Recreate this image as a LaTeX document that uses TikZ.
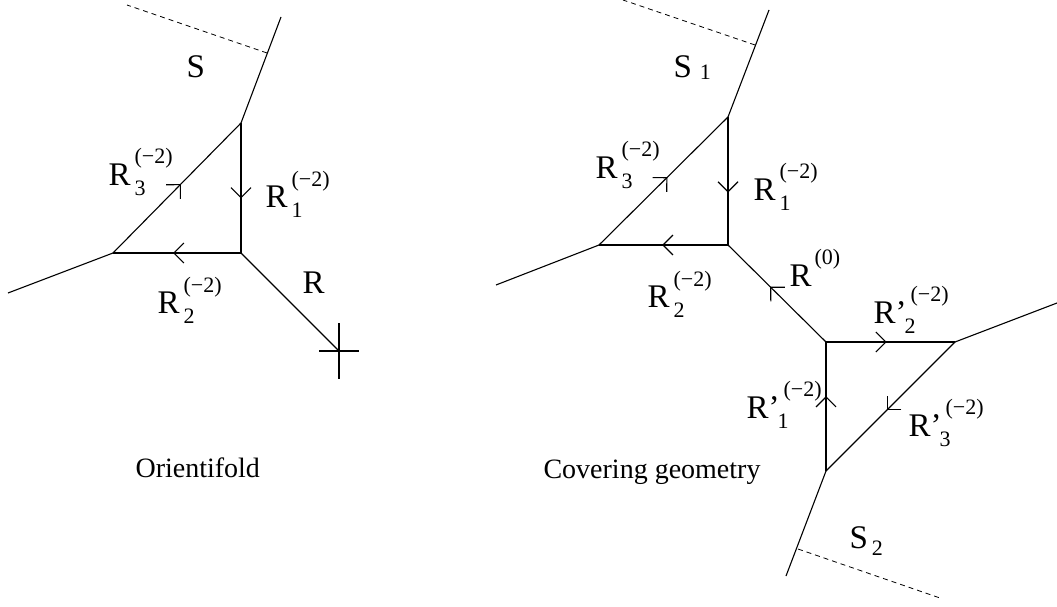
\documentclass[tikz,border=0pt]{standalone}
\usepackage{fontspec}
\setmainfont{Liberation Serif}
\usetikzlibrary{arrows.meta,decorations.markings}
\newcommand{\scr}{\fontsize{22}{22}\selectfont}
\newcommand{\Rlab}[2]{R\kern4pt\rlap{\raisebox{-10pt}{\scr #1}}\raisebox{21pt}{\scr #2}}
\newcommand{\Rplab}[2]{R’\kern-2pt\rlap{\raisebox{-10pt}{\scr #1}}\kern6pt\raisebox{22pt}{\scr #2}}
\begin{document}
\begin{tikzpicture}[
    x=1pt, y=-1pt,
    line width=1.1pt,
    lab/.style={anchor=base west, inner sep=0pt, font=\fontsize{33}{33}\selectfont},
    title/.style={anchor=base west, inner sep=0pt, font=\fontsize{28}{28}\selectfont},
    brane/.style={dashed, line width=0.8pt, dash pattern=on 5pt off 4pt},
    flow/.style={postaction={decorate}, decoration={markings,
        mark=at position #1 with {\arrow{Straight Barb[length=10pt,width=20pt,line width=1.1pt]}}}}
]
\useasboundingbox (0,0) rectangle (1057,607);
% orientifold
\coordinate (t) at (241,123);
\coordinate (b) at (241,253);
\coordinate (l) at (113,253);
\coordinate (tu) at (281,17);
\coordinate (sm) at (267,53);
\coordinate (se) at (127,5);
\coordinate (lo) at (8,293);
\coordinate (x) at (339,351);
\draw[flow=0.58] (t) -- (b);
\draw[flow=0.53] (b) -- (l);
\draw[flow=0.53] (l) -- (t);
\draw (t) -- (tu);
\draw (l) -- (lo);
\draw (b) -- (x);
\draw[brane] (sm) -- (se);
\draw (x) ++(-20,0) -- ++(40,0);
\draw (x) ++(0,-28) -- ++(0,56);
\node[lab] (s) at (186,78) {S};
\node[lab] (r3) at (108,185) {\Rlab{3}{(−2)}};
\node[lab] (r1) at (265,207) {\Rlab{1}{(−2)}};
\node[lab] (r2) at (157,313) {\Rlab{2}{(−2)}};
\node[lab] (r) at (302,293) {R};
\node[title] (orient) at (135,477) {Orientifold};
% covering geometry
\coordinate (ct) at (728,117);
\coordinate (cc) at (728,245);
\coordinate (cl) at (599,245);
\coordinate (ctu) at (769,10);
\coordinate (csm) at (755,45);
\coordinate (cse) at (623,0);
\coordinate (clo) at (496,285);
\coordinate (d) at (826,342);
\coordinate (e) at (955,342);
\coordinate (f) at (826,471);
\coordinate (eo) at (1057,303);
\coordinate (fo) at (786,576);
\coordinate (fsm) at (798,549);
\coordinate (fse) at (940,598);
\draw[flow=0.59] (ct) -- (cc);
\draw[flow=0.51] (cc) -- (cl);
\draw[flow=0.53] (cl) -- (ct);
\draw (ct) -- (ctu);
\draw (cl) -- (clo);
\draw[brane] (csm) -- (cse);
\draw[flow=0.57] (d) -- (cc);
\draw[flow=0.47] (d) -- (e);
\draw[flow=0.53] (e) -- (f);
\draw[flow=0.58] (f) -- (d);
\draw (e) -- (eo);
\draw (f) -- (fo);
\draw[brane] (fsm) -- (fse);
\node[lab] (s1) at (673,78) {S\kern8pt\raisebox{-2pt}{\scr 1}};
\node[lab] (cr3) at (595,178) {\Rlab{3}{(−2)}};
\node[lab] (cr1) at (753,200) {\Rlab{1}{(−2)}};
\node[lab] (cr2) at (647,307) {\Rlab{2}{(−2)}};
\node[lab] (r0) at (789,286) {R\kern3pt\raisebox{22pt}{\scr (0)}};
\node[lab] (rp2) at (873,323) {\Rplab{2}{(−2)}};
\node[lab] (rp1) at (746,418) {\Rplab{1}{(−2)}};
\node[lab] (rp3) at (908,436) {\Rplab{3}{(−2)}};
\node[lab] (s2) at (849,548) {S\kern4pt\raisebox{-7pt}{\scr 2}};
\node[title] (cover) at (543,478) {Covering geometry};
\end{tikzpicture}
\end{document}
